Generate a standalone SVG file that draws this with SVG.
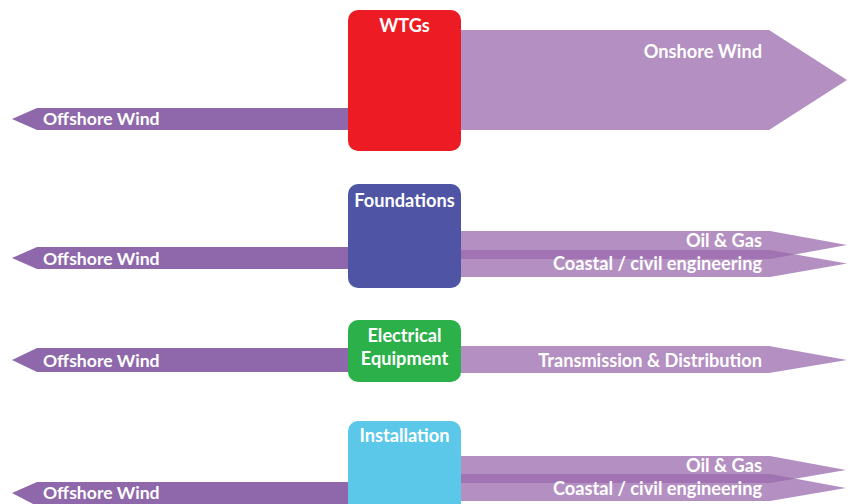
<svg xmlns="http://www.w3.org/2000/svg" width="848" height="504" viewBox="0 0 848 504">
<style>
.off{fill:#8E68AB}
.on{fill:#B48FC1}
.pair{fill:rgb(155,105,172);fill-opacity:0.75}
text{font-family:Lato,"Liberation Sans",sans-serif;font-weight:bold;font-size:18.2px;fill:#ffffff}
.o{font-size:17.6px}
.r{text-anchor:end}
.m{text-anchor:middle}
</style>
<rect width="848" height="504" fill="#ffffff"/>
<g id="connectors">
<polygon class="on" points="450,30 769,30 847,80 769,130 450,130"/>
<polygon class="off" points="12,119 37,108 360,108 360,130 37,130"/>
<polygon class="pair" points="450,231 770,231 847,245 770,259 450,259"/>
<polygon class="pair" points="450,250 770,250 847,263.5 770,277 450,277"/>
<polygon class="off" points="12,258 37,247 360,247 360,269 37,269"/>
<polygon class="on" points="450,346 769,346 847,360 769,373 450,373"/>
<polygon class="off" points="12,360 37,348 360,348 360,372 37,372"/>
<polygon class="pair" points="450,456 770,456 846,470 770,483 450,483"/>
<polygon class="pair" points="450,474 770,474 846,488 770,501 450,501"/>
<polygon class="off" points="12,493 37,482 360,482 360,506 37,506"/>
<text class="o" x="43" y="125">Offshore Wind</text>
<text class="r" x="762" y="58">Onshore Wind</text>
<text class="o" x="43" y="265">Offshore Wind</text>
<text class="r" x="762" y="247">Oil &amp; Gas</text>
<text class="r" x="762" y="270">Coastal / civil engineering</text>
<text class="o" x="43" y="367">Offshore Wind</text>
<text class="r" x="762" y="367">Transmission &amp; Distribution</text>
<text class="o" x="43" y="499">Offshore Wind</text>
<text class="r" x="762" y="472">Oil &amp; Gas</text>
<text class="r" x="762" y="495">Coastal / civil engineering</text>
</g>
<g id="wtgs">
<rect x="348" y="10" width="113" height="141" rx="10" fill="#ED1C24"/>
<text class="m" x="404.5" y="32">WTGs</text>
</g>
<g id="foundations">
<rect x="348" y="184" width="113" height="104" rx="10" fill="#4F55A4"/>
<text class="m" x="404.5" y="207">Foundations</text>
</g>
<g id="electrical">
<rect x="348" y="320" width="113" height="62" rx="10" fill="#2BB04A"/>
<text class="m" x="404.5" y="342">Electrical</text>
<text class="m" x="404.5" y="365">Equipment</text>
</g>
<g id="installation">
<rect x="348" y="421" width="113" height="100" rx="10" fill="#5BC8EA"/>
<text class="m" x="404.5" y="442">Installation</text>
</g>
</svg>
